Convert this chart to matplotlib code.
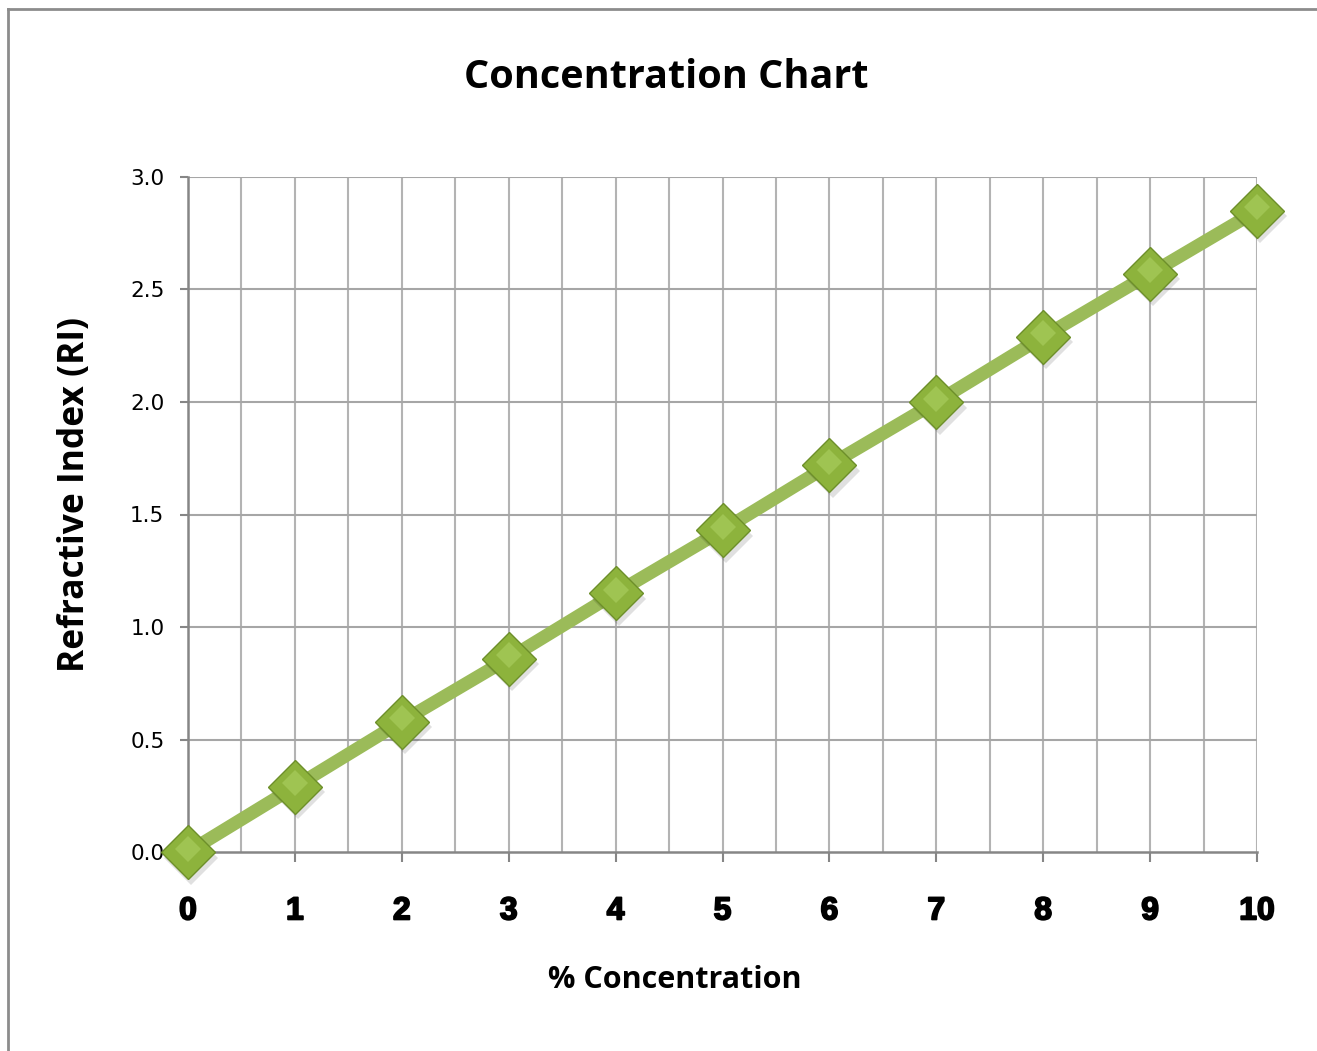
import matplotlib
matplotlib.use('Agg')
import matplotlib.pyplot as plt
import matplotlib.patheffects as pe
from matplotlib.lines import Line2D
import numpy as np

# data
concentration = [0, 1, 2, 3, 4, 5, 6, 7, 8, 9, 10]
refractive_index = [0.0, 0.29, 0.58, 0.86, 1.15, 1.43, 1.72, 2.00, 2.29, 2.57, 2.85]
x_ticks = [0, 1, 2, 3, 4, 5, 6, 7, 8, 9, 10]
y_ticks = [0.0, 0.5, 1.0, 1.5, 2.0, 2.5, 3.0]

line_color = '#9bbb59'
grid_color = '#b3b3b3'
axis_color = '#868686'

fig = plt.figure(figsize=(13.17, 10.51), dpi=100)
ax = fig.add_axes([188/1317, 1 - 852/1051, 1069/1317, 675/1051])

ax.set_xlim(0, 10)
ax.set_ylim(0, 3)

# grid every 0.5 on both axes
for gx in np.arange(0.5, 10.01, 0.5):
    ax.axvline(gx, color=grid_color, lw=1.5, zorder=1)
for gy in y_ticks[1:]:
    ax.axhline(gy, color='#a6a6a6', lw=1.5, zorder=1)

for s in ['top', 'right']:
    ax.spines[s].set_visible(False)
for s in ['left', 'bottom']:
    ax.spines[s].set_color(axis_color)
    ax.spines[s].set_linewidth(1.8)

# series line, marker shadow, markers, highlight
ax.plot(concentration, refractive_index, color=line_color, lw=9.5,
        solid_capstyle='butt', zorder=3)
ax.plot(np.array(concentration) + 0.03, np.array(refractive_index) - 0.025,
        linestyle='none', marker='D', markersize=27, color='#000000',
        alpha=0.12, markeredgewidth=0, zorder=4, clip_on=False)
ax.plot(concentration, refractive_index, linestyle='none', marker='D',
        markersize=27, markerfacecolor='#8db33c', markeredgecolor='#6d8f2a',
        markeredgewidth=1.0, zorder=5, clip_on=False)
ax.plot(concentration, np.array(refractive_index) + 0.015, linestyle='none',
        marker='D', markersize=13, markerfacecolor='#a8cc5c',
        markeredgewidth=0, alpha=0.7, zorder=6, clip_on=False)

ax.set_xticks(x_ticks)
ax.set_xticklabels([str(v) for v in x_ticks], fontsize=23, fontweight='bold',
                   family='Liberation Sans',
                   path_effects=[pe.withStroke(linewidth=1.3, foreground='black')])
ax.set_yticks(y_ticks)
ax.set_yticklabels(['%.1f' % v for v in y_ticks], fontsize=15.5,
                   family='DejaVu Sans')
ax.tick_params(axis='x', length=7, width=1.5, color=axis_color, pad=25)
ax.tick_params(axis='y', length=6, width=1.5, color=axis_color, pad=11)

fig.text(666/1317, 1 - 77/1051, 'Concentration Chart', ha='center',
         va='center', fontsize=28.5, fontweight='bold', family='Open Sans')
fig.text(675/1317, 1 - 980/1051, '% Concentration', ha='center',
         va='center', fontsize=22, fontweight='bold', family='Open Sans')
fig.text(75/1317, 1 - 495/1051, 'Refractive Index (RI)', ha='center',
         va='center', rotation=90, fontsize=25.5, fontweight='bold',
         family='Open Sans')

# outer chart border (left and top edges visible)
fig.add_artist(Line2D([8/1317, 8/1317], [0, 1 - 9/1051], color='#8c8c8c',
                      lw=2, transform=fig.transFigure))
fig.add_artist(Line2D([8/1317, 1], [1 - 9/1051, 1 - 9/1051], color='#8c8c8c',
                      lw=2, transform=fig.transFigure))

fig.savefig('out.png', dpi=100)
